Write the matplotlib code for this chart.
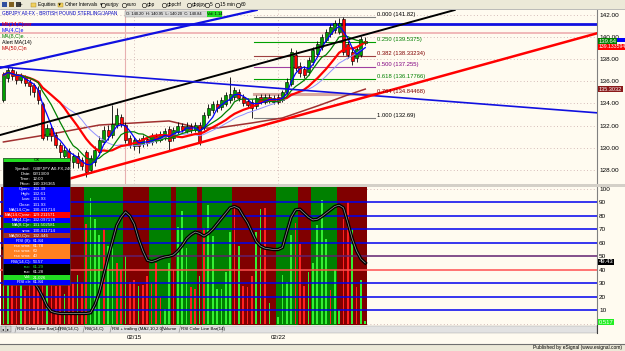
import numpy as np
import pandas as pd
import matplotlib
matplotlib.use("Agg")
import matplotlib.pyplot as plt
import matplotlib.transforms as mtransforms
from matplotlib.patches import Rectangle

plt.rcParams['font.family'] = ['Liberation Sans', 'DejaVu Sans']

W, H = 625, 351
BG = '#FFFBF0'

# ---- 4h price bars, GBPJPY ----
opens = [134.31, 136.30, 137.02, 136.66, 136.12, 136.39, 135.94, 135.67, 135.22, 133.95,
         131.06, 131.78, 131.15, 130.24, 129.25, 129.70, 128.70, 129.25, 128.89, 129.61,
         127.98, 128.70, 129.61, 130.51, 131.60, 131.15, 132.05, 132.77, 132.05, 130.87,
         130.15, 130.69, 130.33, 130.78, 130.51, 131.06, 130.69, 130.97, 131.69, 130.87,
         131.42, 131.96, 131.51, 131.96, 131.60, 132.05, 131.87, 132.95, 133.41, 133.95,
         133.68, 133.95, 134.31, 134.58, 135.03, 134.58, 134.22, 134.13, 133.77, 134.58,
         134.13, 134.58, 134.13, 134.58, 134.31, 135.03, 135.76, 138.38, 137.39, 137.11,
         136.84, 137.75, 138.47, 139.10, 139.74, 140.28, 140.64, 140.46, 141.64, 139.38,
         138.65, 138.11, 138.38, 139.47]
highs = [136.84, 137.39, 137.30, 136.93, 136.75, 136.57, 136.21, 135.85, 135.58, 134.13,
         132.14, 131.96, 131.42, 130.51, 130.15, 129.97, 129.52, 129.61, 129.16, 129.79,
         129.34, 130.15, 131.06, 131.96, 132.05, 133.86, 133.59, 133.04, 132.32, 131.15,
         130.97, 130.87, 131.15, 131.06, 131.33, 131.33, 131.51, 131.78, 131.96, 131.87,
         132.32, 132.23, 132.32, 132.23, 132.32, 132.32, 133.23, 133.95, 134.22, 134.31,
         134.58, 135.03, 136.39, 135.49, 135.31, 134.85, 134.49, 134.40, 134.76, 134.85,
         134.85, 134.85, 134.76, 134.85, 135.22, 136.30, 139.01, 138.83, 137.75, 137.39,
         138.20, 139.10, 139.65, 140.28, 140.73, 141.18, 141.54, 141.73, 141.82, 139.65,
         139.01, 139.19, 140.10, 140.01]
lows = [134.13, 135.94, 136.12, 135.76, 135.85, 135.58, 134.76, 134.58, 133.95, 130.69,
        130.69, 130.60, 129.97, 129.07, 128.70, 128.43, 128.16, 128.16, 127.98, 127.35,
        127.71, 128.34, 129.34, 130.33, 130.69, 130.87, 131.78, 131.87, 130.42, 129.97,
        129.79, 129.52, 130.06, 130.15, 130.24, 130.42, 130.51, 130.69, 129.79, 130.60,
        131.24, 131.42, 131.33, 131.33, 131.42, 130.24, 131.60, 132.68, 133.14, 133.23,
        133.41, 133.77, 134.04, 134.31, 134.22, 133.77, 133.59, 132.69, 133.50, 133.95,
        133.95, 134.04, 133.95, 133.95, 134.13, 134.85, 135.58, 136.93, 136.39, 136.30,
        136.57, 137.48, 138.20, 138.83, 139.56, 140.01, 140.37, 140.28, 138.38, 138.11,
        137.48, 137.75, 138.20, 139.28]
closes = [136.57, 137.02, 136.48, 136.12, 136.48, 135.85, 135.58, 135.03, 134.31, 130.87,
          131.78, 131.06, 130.24, 129.61, 129.79, 128.89, 129.25, 128.61, 128.34, 127.80,
          129.07, 129.79, 130.69, 131.60, 131.06, 132.14, 132.95, 132.14, 130.69, 130.24,
          130.69, 130.15, 130.87, 130.42, 131.06, 130.69, 131.24, 131.51, 130.60, 131.60,
          131.96, 131.60, 131.96, 131.60, 132.05, 130.51, 132.95, 133.59, 133.95, 133.59,
          134.31, 134.76, 134.85, 135.22, 134.49, 134.04, 133.86, 133.59, 134.49, 134.13,
          134.58, 134.22, 134.49, 134.13, 135.03, 135.94, 138.65, 137.21, 136.75, 136.57,
          137.93, 138.83, 139.38, 140.01, 140.46, 140.91, 141.27, 141.27, 138.65, 138.38,
          137.84, 138.92, 139.83, 139.64]

# MA(50) at a few bars
ma50_bars = [0, 11, 22, 34, 38, 42, 45, 49, 57, 64, 68, 72, 79, 83]
ma50_vals = [130.52, 131.24, 132.05, 132.33, 132.42, 132.05, 131.78, 131.78, 132.24,
             132.69, 133.23, 133.77, 134.77, 135.30]

# lower pane: RSI line, colour bars, volume
rsi = [56, 52, 49, 47, 44, 39, 35, 31, 26, 20,
       13, 9, 8, 7.5, 7.5, 7.5, 7.5, 7.5, 7.5, 7.5,
       8, 14, 23, 36, 49, 61, 73, 79, 83, 80,
       74, 63, 54, 47, 46, 47, 48.5, 49.5, 50, 51,
       54, 58, 63, 66, 68, 67, 65, 67, 70, 74,
       78, 82, 86, 87, 85.5, 80, 75, 68, 61, 57.5,
       56, 55.5, 55, 55, 56.5, 68, 79, 84.5, 85, 82,
       79, 77, 77.5, 79.5, 82, 84.5, 87, 88, 86, 75,
       63, 54, 48, 45]
band_runs = [('r', 19), ('g', 9), ('r', 6), ('g', 5), ('r', 1), ('g', 5), ('r', 1),
             ('g', 7), ('r', 10), ('g', 5), ('r', 3), ('g', 6), ('r', 7)]
volume = [35, 55, 40, 30, 45, 25, 38, 50, 42, 68,
          30, 33, 28, 40, 22, 31, 30, 36, 30, 74,
          93, 78, 66, 70, 58, 62, 45, 40, 50, 31,
          32, 28, 29, 35, 30, 45, 20, 11, 45, 40,
          72, 84, 56, 27, 26, 35, 71, 88, 65, 26,
          26, 38, 68, 87, 58, 28, 27, 35, 68, 85,
          86, 15, 0, 5, 36, 31, 66, 75, 59, 28,
          38, 45, 73, 92, 63, 25, 40, 10, 78, 90,
          70, 27, 32, 2]
vol_dir = ("ggrrgrrrrr" "grrrgrrgrr" "gggrggrrgr" "rgrrrrrggr" "gggrrgrggg"
           "gggrgrrrgg" "rggggggrrr" "gggggrggrr" "grgg")

# drawing tools
fib_high, fib_low = 141.82, 132.69
fib_ratios = [0.0, 0.25, 0.382, 0.5, 0.618, 0.764, 1.0]
fib_line_col = ['#808080', '#00A000', '#A04040', '#A040A0', '#00A000', '#D8A8A0', '#808080']
fib_text_col = ['black', '#008000', '#800000', '#800080', '#008000', '#800000', 'black']
fib_span = (57.5, 85.2)
hlines = [(141.19, '#1010E0', 2.0), (140.37, '#F0B8B8', 1.4)]
trend_lines = [((0, 131.23), (100, 142.07), 'black', 1.4),
               ((0, 137.28), (50, 141.73), '#1010E0', 1.6),
               ((0, 137.28), (100, 134.25), '#1010E0', 1.2),
               ((15.5, 127.24), (136.2, 140.35), '#FF0000', 1.8)]
date_labels = ['02/15', '02/22']
date_bars = [30, 63]
cursor_bar = 28

o, h, l, c = map(np.array, (opens, highs, lows, closes))
x = np.arange(len(c))
s = pd.Series(c)

fig = plt.figure(figsize=(W / 100, H / 100), dpi=100, facecolor=BG)


def rect(x0, y0, x1, y1):
    return [x0 / W, 1 - y1 / H, (x1 - x0) / W, (y1 - y0) / H]


ax = fig.add_axes(rect(0, 10, 597, 184), facecolor=BG)
axr = fig.add_axes(rect(0, 187, 597, 325), facecolor=BG)
for a in (ax, axr):
    a.set_xlim(-0.78, 136.15)
    for k in ('top', 'left', 'bottom'):
        a.spines[k].set_visible(False)
    a.spines['right'].set_color('#808080')
    a.spines['right'].set_linewidth(0.8)
    a.yaxis.tick_right()
    a.tick_params(axis='y', length=0, labelsize=4.6, pad=1.5)

# ---------------- price pane ----------------
ax.set_ylim(126.72, 142.45)
ax.set_yticks(np.arange(128, 143, 2))
ax.set_yticklabels([f"{v:.2f}" for v in np.arange(128, 143, 2)])
ax.tick_params(axis='x', bottom=False, labelbottom=False)
ax.grid(axis='y', ls=(0, (1, 3)), color='#C8A8A8', lw=0.6)
ax.set_axisbelow(True)
for d in date_bars:
    ax.axvline(d, ls=(0, (1, 3)), color='#C8A8A8', lw=0.6, zorder=0)
ax.axvline(cursor_bar, color='#E8B0B0', lw=0.8, zorder=1)

for val, col, lw in hlines:
    ax.axhline(val, color=col, lw=lw, zorder=2)

ax.plot(ma50_bars, ma50_vals, color='#A03030', lw=1.1, zorder=3)

for r, lc, tc in zip(fib_ratios, fib_line_col, fib_text_col):
    lev = round(fib_high - r * (fib_high - fib_low), 5)
    ax.plot(fib_span, [lev, lev], color=lc, lw=2.2 if r == 0.764 else 0.8, zorder=2)
    txt = f"{lev:.5f}".rstrip('0').rstrip('.')
    ax.text(fib_span[1] + 0.4, lev, f"{r:.3f} ({txt})", color=tc, fontsize=4.2,
            va='bottom', ha='left', zorder=8)

ax.vlines(x, l, h, color='black', lw=0.6, zorder=4)
up = c >= o
ax.bar(x, np.maximum(np.abs(c - o), 0.05), bottom=np.minimum(o, c), width=0.7,
       color=np.where(up, '#00A000', '#FF0000'), edgecolor='black', linewidth=0.4, zorder=5)

ax.plot(x, s.rolling(18, min_periods=1).mean(), color='#9090FF', lw=0.7, zorder=6)
ax.plot(x, s.rolling(14, min_periods=1).mean(), color='#FF0000', lw=1.6, zorder=6)
ax.plot(x, s.rolling(8, min_periods=1).mean(), color='#008000', lw=0.9, zorder=6)
ax.plot(x, s.rolling(4, min_periods=1).mean(), color='#0000FF', lw=0.9, zorder=6)

for (x0, p0), (x1, p1), col, lw in trend_lines:
    if x0 == 0:
        ax.axline((x0, p0), (x1, p1), color=col, lw=lw, zorder=7)
    else:
        ax.plot([x0, x1], [p0, p1], color=col, lw=lw, zorder=7)

# value tags on the price scale (the blue one sits mostly hidden behind the others)
tr = mtransforms.blended_transform_factory(ax.transAxes, ax.transData)
ax.add_patch(Rectangle((1.03, 139.56), 0.02, 0.36, transform=tr, fc='#0000FF', ec='none',
                       clip_on=False, zorder=8))
tags = [(139.64, '139.64', '#008000', 'white', 4.2),
        (139.13, '139.133594', '#FF0000', 'white', 3.7),
        (135.30, '135.3032', '#8B1A1A', 'white', 4.0)]
for val, txt, fc, tc, fs in tags:
    ax.text(1.003, val, txt, transform=tr, fontsize=fs, color=tc, va='center', ha='left',
            clip_on=False, zorder=9,
            bbox=dict(boxstyle='square,pad=0.12', fc=fc, ec='none'))

# ---------------- RSI / volume pane ----------------
axr.set_ylim(-1.1, 101.5)
axr.set_yticks(range(10, 101, 10))
bands = ''.join(ch * n for ch, n in band_runs)
axr.bar(x, 102.6, bottom=-1.1, width=1.0, linewidth=0,
        color=['#008000' if b == 'g' else '#800000' for b in bands], zorder=1)
axr.bar(x, volume, width=0.38, linewidth=0,
        color=['#33EE33' if v == 'g' else '#FF2020' for v in vol_dir], zorder=3)
level_col = {90: '#0000EE', 80: '#0000EE', 70: '#0000EE', 60: '#0000EE', 50: '#602070',
             40: '#FF5050', 30: '#0000EE', 20: '#0000EE', 10: '#0000EE'}
for lev, col in level_col.items():
    axr.axhline(lev, color=col, lw=1.1, zorder=4)
for lev in (100, 0):
    axr.axhline(lev, color='#C8A8A8', ls=(0, (1, 3)), lw=0.6, zorder=0.5)
axr.plot(x, rsi, color='black', lw=2.4, zorder=5)
axr.plot(x, rsi, color='#9A9A9A', lw=0.5, zorder=6)

axr.set_xticks(date_bars)
axr.set_xticklabels(date_labels)
axr.tick_params(axis='x', length=0, labelsize=4.4, pad=7.5)

trr = mtransforms.blended_transform_factory(axr.transAxes, axr.transData)
axr.text(1.003, 45.9, '49.43', transform=trr, fontsize=4.2, color='white', va='center',
         clip_on=False, zorder=9, bbox=dict(boxstyle='square,pad=0.12', fc='black', ec='none'))
axr.text(1.003, 1.0, '0.517', transform=trr, fontsize=4.2, color='white', va='center',
         clip_on=False, zorder=9, bbox=dict(boxstyle='square,pad=0.12', fc='#22EE22', ec='none'))

# ---------------- window furniture (pixel overlay) ----------------
ov = fig.add_axes([0, 0, 1, 1])
ov.set_xlim(0, W)
ov.set_ylim(H, 0)
ov.axis('off')
ov.set_zorder(10)


def box(x0, y0, x1, y1, fc, ec='none', lw=0.5):
    ov.add_patch(Rectangle((x0, y0), x1 - x0, y1 - y0, fc=fc, ec=ec, lw=lw))


# toolbar
box(0, 0, W, 9, '#ECE9D8')
ov.plot([0, W], [9.2, 9.2], color='#A0A0A0', lw=0.5)
for xi, col in [(2, '#3050A0'), (9, '#806020'), (16, '#404040')]:
    box(xi, 2, xi + 5, 7, col)
ov.text(21, 4.6, '+', fontsize=4.5, va='center', ha='center')
for xi, label in [(31, 'Equities  \u25be'), (58, 'Other Intervals  \u25be')]:
    box(xi, 2.5, xi + 5, 6.8, '#F0D060', ec='#A08020', lw=0.3)
    ov.text(xi + 7, 4.6, label, fontsize=3.5, va='center')
for xi, label in [(103, 'eurjpy'), (124, 'euro'), (144, 'gbp'), (164, 'gbpchf'),
                  (189, 'gbpjpy'), (207, '5'), (217, '15 min'), (238, '60')]:
    ov.plot(xi, 4.6, 'o', ms=3.2, mfc='none', mec='black', mew=0.4)
    ov.text(xi + 3, 4.6, label, fontsize=3.5, va='center')

# title / info box
ov.text(2, 13.3, 'GBPJPY A0-FX - BRITISH POUND STERLING/JAPAN', fontsize=3.4,
        color='#0000C0', va='center')
box(125, 10.5, 222, 17, '#D8D8D8', ec='#909090', lw=0.3)
ov.text(126.5, 13.7, 'O: 140.20  H: 140.95  L: 140.20  C: 140.84', fontsize=2.9, va='center')
box(207, 11, 222, 16.5, '#22DD22')
ov.text(214.5, 13.7, 'Vol: 1.14', fontsize=2.9, va='center', ha='center')

for yy, label, col in [(24.5, 'MA(14,C)vwr', '#FF0000'), (30.5, 'MA(4,C)e', '#0000FF'),
                       (36.5, 'MA(8,C)e', '#008000'), (42.5, 'Alert MA(14)', 'black'),
                       (48.5, 'MA(50,C)n', '#C00000')]:
    ov.text(2, yy, label, fontsize=3.8, color=col, va='center')

# separator between panes
box(0, 184, W, 187, '#D4D0C8')

# data window
box(3, 158, 70, 162, '#22DD22')
ov.text(36.5, 160, 'OK', fontsize=3.2, va='center', ha='center')
box(3, 162, 70, 186.5, 'black')
head = [('Symbol:', 'GBPJPY A0-FX,240'), ('Date:', '02/13/09'), ('Time:', '12:00'),
        ('Price:', '140.336365')]
for k, (lab, val) in enumerate(head):
    yy = 168.7 + 5 * k
    ov.text(31, yy, lab, fontsize=3.2, color='white', va='center', ha='right')
    ov.text(33, yy, val, fontsize=3.2, color='white', va='center', ha='left')
rows = [('Open:', '132.39', '#0000FF', 'white'), ('High:', '132.61', '#0000FF', 'white'),
        ('Low:', '131.93', '#0000FF', 'white'), ('Close:', '131.93', '#0000FF', 'white'),
        ('MA(14,C)n:', '130.411714', '#0000FF', 'white'),
        ('MA(14,C)vwr:', '129.211571', '#FF0000', 'white'),
        ('MA(4,C)e:', '132.097178', '#0000FF', 'white'),
        ('MA(8,C)e:', '131.502581', '#008000', 'white'),
        ('sma:', '130.411714', '#0000FF', 'white'),
        ('MA(50,C)n:', '132.446', '#A03020', 'white'),
        ('RSI (8):', '61.84', '#0000FF', 'white'),
        ('rsx sma:', '61.78', '#FF8020', 'white'), ('rsx sma:', '60', '#FF8020', 'white'),
        ('rsx sma:', '40', '#FF8020', 'white'),
        ('RSI(14,C):', '53.57', '#0000FF', 'white'),
        ('rsx:', '61.29', 'black', '#30E030'), ('rsx:', '61.28', 'black', 'white'),
        ('Vol:', '21,026', '#22DD22', 'white'), ('RSI clr:', '61.84', '#0000FF', 'white')]
rh = 98.5 / len(rows)
for k, (lab, val, fc, tc) in enumerate(rows):
    y0 = 186.5 + rh * k
    box(3, y0, 70, y0 + rh, fc)
    ov.text(31, y0 + rh / 2, lab, fontsize=3.2, color=tc, va='center', ha='right')
    ov.text(33, y0 + rh / 2, val, fontsize=3.2, color=tc, va='center', ha='left')
box(3, 158, 70, 285, 'none', ec='#404040', lw=0.5)

# tab bar under the chart
box(0, 325.5, 597, 332.5, '#E2E2E2', ec='#A0A0A0', lw=0.3)
for xi, arrow in [(1, '\u25c2'), (6, '\u25b8')]:
    box(xi, 326.3, xi + 4.5, 331.7, '#D0D0D0', ec='#707070', lw=0.3)
    ov.text(xi + 2.25, 329, arrow, fontsize=2.8, va='center', ha='center', family='DejaVu Sans')
for xi, label in [(15, 'RSI Color Line Bar(14)'), (58, 'RSI(14,C)'), (83, 'RSI(14,C)'),
                  (110, 'RSI + trailing (MA2,10,2.0)'), (161, 'Volume'),
                  (179, 'RSI Color Line Bar(14)')]:
    ov.text(xi + 2, 329, label, fontsize=3.2, va='center')
    ov.plot([xi, xi + 1.5], [332.3, 326], color='#808080', lw=0.4)
ov.plot([222, 223.5], [332.3, 326], color='#808080', lw=0.4)
ov.plot([597, 597], [325, 333], color='#404040', lw=0.8)

# footer
box(0, 343.5, W, H, '#ECE9D8')
ov.plot([0, W], [343.5, 343.5], color='#707070', lw=0.8)
ov.text(622, 347.3, 'Published by eSignal (www.esignal.com)', fontsize=3.5,
        va='center', ha='right')

fig.savefig('out.png', dpi=100, facecolor=BG)
